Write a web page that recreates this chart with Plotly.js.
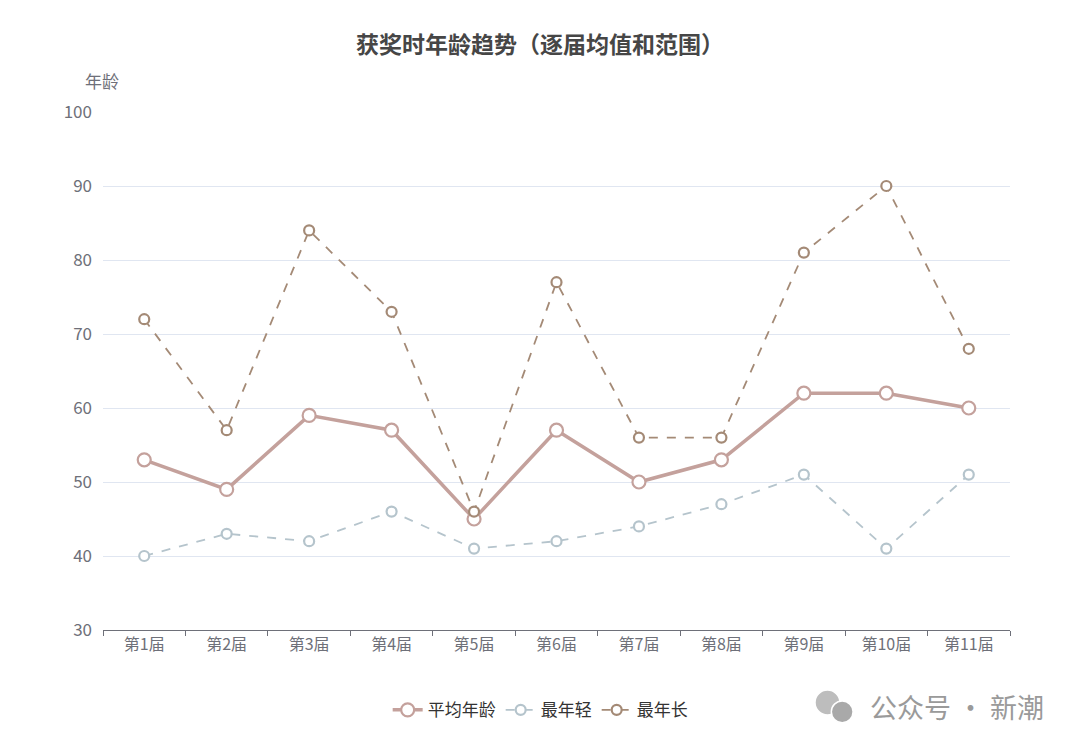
<!DOCTYPE html>
<html>
<head>
<meta charset="utf-8">
<script src="https://cdn.plot.ly/plotly-3.0.1.min.js"></script>
<style>
  html, body { margin: 0; padding: 0; background: #fff; }
  #chart { width: 1080px; height: 750px; }
</style>
</head>
<body>
<div id="chart"></div>
<script>
const sessions = ['第1届', '第2届', '第3届', '第4届', '第5届', '第6届', '第7届', '第8届', '第9届', '第10届', '第11届'];
const avgAge = [53, 49, 59, 57, 45, 57, 50, 53, 62, 62, 60];
const minAge = [40, 43, 42, 46, 41, 42, 44, 47, 51, 41, 51];
const maxAge = [72, 57, 84, 73, 46, 77, 56, 56, 81, 90, 68];

const font = '"Noto Sans CJK SC", "Noto Sans", sans-serif';

function serie(name, y, color, width, dash, msize) {
    return {
        type: 'scatter',
        mode: 'lines+markers',
        name: name,
        x: sessions,
        y: y,
        line: {color: color, width: width, dash: dash},
        marker: {
            symbol: 'circle',
            size: msize,
            color: '#ffffff',
            line: {color: color, width: 2.2}
        },
        hoverinfo: 'x+y+name'
    };
}

const data = [
    serie('平均年龄', avgAge, '#c4a19c', 3.5, 'solid', 13),
    serie('最年轻', minAge, '#b5c4cc', 1.8, 'dash', 10),
    serie('最年长', maxAge, '#a48a76', 1.8, 'dash', 10)
];

// watermark bubbles (decoration only)
function bubble(x0, x1, y0, y1, fill) {
    return {type: 'circle', xref: 'paper', yref: 'paper', layer: 'above',
            x0: x0, x1: x1, y0: y0, y1: y1,
            fillcolor: fill, line: {color: '#ffffff', width: 1.5}};
}

const layout = {
    width: 1080,
    height: 750,
    margin: {l: 103, r: 70, t: 112, b: 120},
    paper_bgcolor: '#ffffff',
    plot_bgcolor: '#ffffff',
    font: {family: font, color: '#6e7079', size: 16},
    title: {
        text: '<b>获奖时年龄趋势（逐届均值和范围）</b>',
        x: 0.5, xanchor: 'center',
        y: 0.94, yanchor: 'middle',
        font: {family: font, size: 23, color: '#464646'}
    },
    showlegend: true,
    legend: {
        orientation: 'h',
        x: 0.482, xanchor: 'center',
        y: -0.155, yanchor: 'middle',
        font: {family: font, size: 17, color: '#333333'},
        itemwidth: 30
    },
    xaxis: {
        type: 'category',
        range: [-0.5, 10.5],
        showgrid: false,
        showline: true,
        linecolor: '#6e7079',
        linewidth: 1,
        ticks: 'outside',
        tickson: 'boundaries',
        ticklen: 5,
        tickcolor: '#6e7079',
        tickfont: {family: font, size: 16, color: '#6e7079'},
        zeroline: false,
        fixedrange: true
    },
    yaxis: {
        range: [30, 100],
        dtick: 10,
        showgrid: true,
        gridcolor: '#e0e6f1',
        gridwidth: 1,
        showline: false,
        zeroline: false,
        ticks: '',
        ticklabelstandoff: 10,
        tickfont: {family: font, size: 17, color: '#6e7079'},
        fixedrange: true
    },
    shapes: [
        bubble(0.7850, 0.8125, -0.1160, -0.1640, '#bdbdbd'),
        bubble(0.8030, 0.8270, -0.1370, -0.1790, '#a9a9a9')
    ],
    annotations: [
        {
            text: '年龄',
            xref: 'paper', yref: 'paper',
            x: 0, y: 1.06, xanchor: 'right', yanchor: 'middle',
            xshift: 18,
            showarrow: false,
            font: {family: font, size: 17, color: '#6e7079'}
        },
        {
            text: '公众号 · 新潮',
            xref: 'paper', yref: 'paper',
            x: 1.04, y: -0.148, xanchor: 'right', yanchor: 'middle',
            showarrow: false,
            font: {family: font, size: 27, color: '#9a9a9a'}
        }
    ]
};

Plotly.newPlot('chart', data, layout, {displayModeBar: false});
</script>
</body>
</html>
